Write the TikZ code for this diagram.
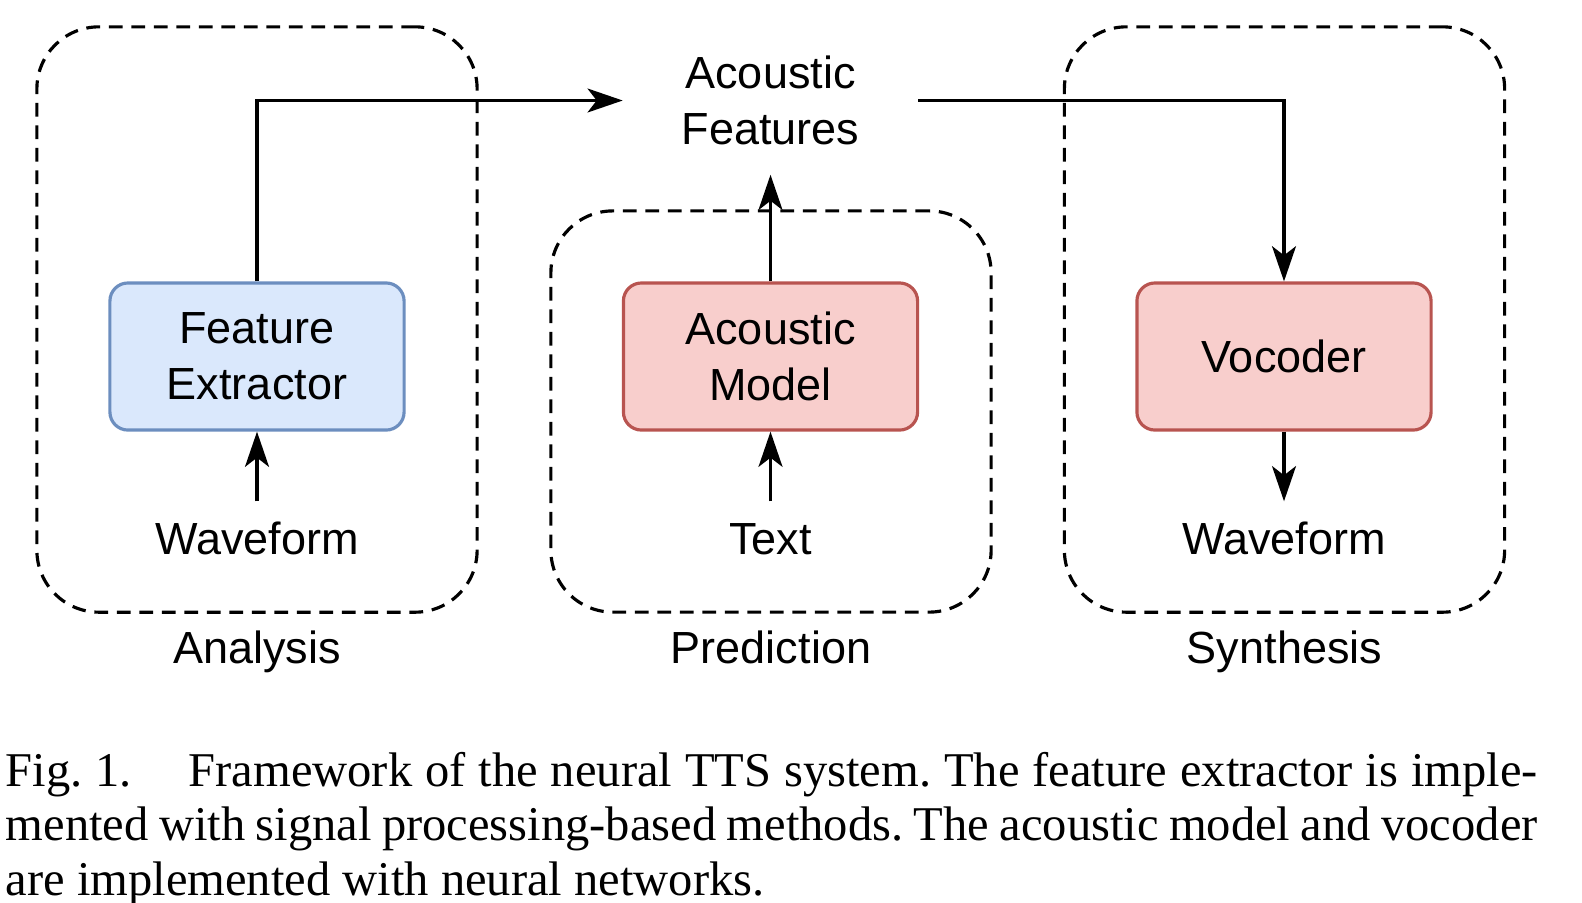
\documentclass[tikz,border=0pt]{standalone}
\usepackage{fontspec}
\setmainfont{Liberation Serif}
\newfontfamily\diagfont{Liberation Sans}
\usetikzlibrary{arrows.meta}
\definecolor{ttsblue}{HTML}{DAE8FC}
\definecolor{ttsbluedraw}{HTML}{6C8EBF}
\definecolor{ttsred}{HTML}{F8CECC}
\definecolor{ttsreddraw}{HTML}{B85450}
\tikzset{
  module/.style={draw, line width=0.9pt, rounded corners=0.18cm, minimum width=2.94cm,
    minimum height=1.47cm, align=center, font=\diagfont\fontsize{12.8}{15.9}\selectfont},
  plain/.style={align=center, minimum width=2.94cm, minimum height=1.47cm,
    font=\diagfont\fontsize{12.8}{15.9}\selectfont},
  signal/.style={minimum height=0.72cm, text height=9.2pt, text depth=0pt,
    font=\diagfont\fontsize{12.8}{15.9}\selectfont},
  stage/.style={draw, dashed, dash pattern=on 3.9pt off 2.5pt, line width=0.9pt,
    rounded corners=0.62cm, minimum width=4.4cm},
  stagename/.style={anchor=base, font=\diagfont\fontsize{12.8}{15.9}\selectfont},
  flow/.style={line width=0.95pt, -{Stealth[length=10pt, width=6.8pt, inset=2.6pt]}}
}

\begin{document}
\begin{tikzpicture}[x=0.01cm, y=-0.01cm]
\useasboundingbox (0,0) rectangle (1582,902);

% Stages
\node[stage, minimum height=5.85cm] (analysis) at (257,319.5) {};
\node[stage, minimum height=4.01cm] (prediction) at (771,411.5) {};
\node[stage, minimum height=5.85cm] (synthesis) at (1284.5,319.5) {};
\node[stagename] (analysislbl) at (257,663) {Analysis};
\node[stagename] (predictionlbl) at (771,663) {Prediction};
\node[stagename] (synthesislbl) at (1284.5,663) {Synthesis};

% Modules
\node[module, fill=ttsblue, draw=ttsbluedraw] (extractor) at (257,356.5) {Feature\\Extractor};
\node[module, fill=ttsred, draw=ttsreddraw] (acmodel) at (770.5,356.5) {Acoustic\\Model};
\node[module, fill=ttsred, draw=ttsreddraw] (vocoder) at (1284,356.5) {Vocoder};
\node[plain] (acfeat) at (770.5,100.5) {Acoustic\\Features};

% Inputs and outputs
\node[signal] (wavein) at (257,538) {Waveform};
\node[signal] (text) at (770.5,538) {Text};
\node[signal] (waveout) at (1284,538) {Waveform};

% Connections
\draw[flow] (wavein) -- (extractor);
\draw[flow] (text) -- (acmodel);
\draw[flow] (acmodel) -- (acfeat);
\draw[flow] (vocoder) -- (waveout);
\draw[flow] (extractor.north) |- (acfeat.west);
\draw[flow] (acfeat.east) -| (vocoder.north);

% Caption
\node[anchor=base west, inner sep=0pt] (caption) at (5,786) {\parbox[t]{15.31cm}{%
  \fontsize{13.8}{15.6}\selectfont\frenchspacing
  \makebox[\linewidth][s]{Fig. 1.\hspace{1.17em}Framework of the neural TTS system. The feature extractor is imple-}\\
  \makebox[\linewidth][s]{mented with signal processing-based methods. The acoustic model and vocoder}\\
  are implemented with neural networks.}};
\end{tikzpicture}
\end{document}
